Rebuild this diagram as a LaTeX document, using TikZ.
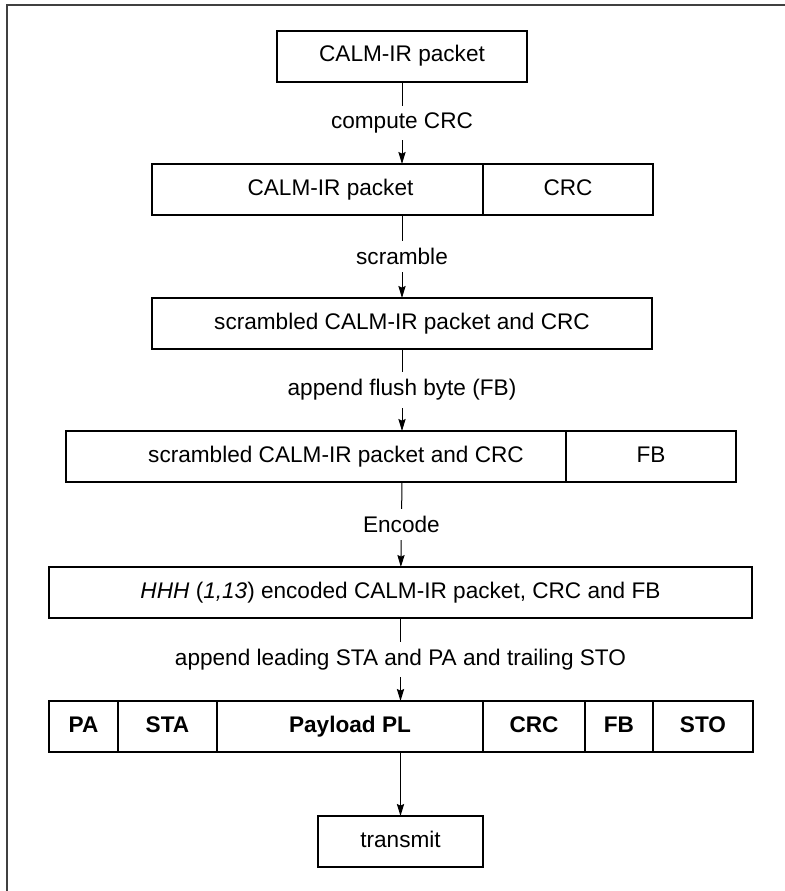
\documentclass[tikz,border=0pt]{standalone}
\usepackage{fontspec}
\setmainfont{Liberation Sans}
\usetikzlibrary{positioning,arrows.meta}

\tikzset{
  blk/.style={rectangle, draw, line width=1pt, outer sep=0pt, inner sep=0pt,
    minimum height=25.5pt, text height=8.2pt, text depth=2.4pt,
    font=\fontsize{11.3}{13.5}\selectfont},
  cellw/.style={minimum width=#1*0.5pt},
  hdr/.style={blk, font=\fontsize{11.3}{13.5}\selectfont\bfseries},
  lbl/.style={fill=white, inner xsep=2pt, inner ysep=3.5pt, font=\fontsize{11.3}{13.5}\selectfont}
}

\begin{document}
\begin{tikzpicture}[x=0.5pt,y=-0.5pt,->,>={Stealth[length=6pt,width=3.6pt,inset=0.8pt]},line width=0.5pt]
  \useasboundingbox (0,0) rectangle (785,891);
  \draw[-,line width=1pt,black!75] (7,5) rectangle (800,910);

  % packet stages
  \node[blk,cellw=250] (raw) at (402,56) {CALM-IR packet};
  \node[blk,cellw=331,anchor=north west] (pkt) at (152,164) {\hspace*{13pt}CALM-IR packet};
  \node[blk,cellw=170] (crc) [right=0pt of pkt] {CRC};
  \node[blk,cellw=500] (scr) at (402,323.5) {scrambled CALM-IR packet and CRC};
  \node[blk,cellw=500,anchor=north west] (scrfb) at (66,431) {\hspace*{20pt}scrambled CALM-IR packet and CRC};
  \node[blk,cellw=170] (fb) [right=0pt of scrfb] {FB};
  \node[blk,cellw=703] (enc) at (400.5,592.5) {\textit{HHH} (\textit{1,13}) encoded CALM-IR packet, CRC and FB};

  % frame
  \node[hdr,cellw=69,anchor=north west] (pa) at (49,701) {PA};
  \node[hdr,cellw=99] (sta) [right=0pt of pa] {STA};
  \node[hdr,cellw=266] (pl) [right=0pt of sta] {Payload PL};
  \node[hdr,cellw=102] (fcrc) [right=0pt of pl] {CRC};
  \node[hdr,cellw=68] (ffb) [right=0pt of fcrc] {FB};
  \node[hdr,cellw=100] (sto) [right=0pt of ffb] {STO};

  \node[blk,cellw=165] (tx) at (400.5,841.5) {transmit};

  \draw (raw) -- node[lbl] {compute CRC} (raw |- pkt.north);
  \draw (raw |- pkt.south) -- node[lbl] {scramble} (scr);
  \draw (scr) -- node[lbl] {append flush byte (FB)} (scr |- scrfb.north);
  \draw (scr |- scrfb.south) -- node[lbl] {Encode} (enc);
  \draw (enc) -- node[lbl] {append leading STA and PA and trailing STO} (enc |- pl.north);
  \draw (enc |- pl.south) -- (tx);
\end{tikzpicture}
\end{document}
